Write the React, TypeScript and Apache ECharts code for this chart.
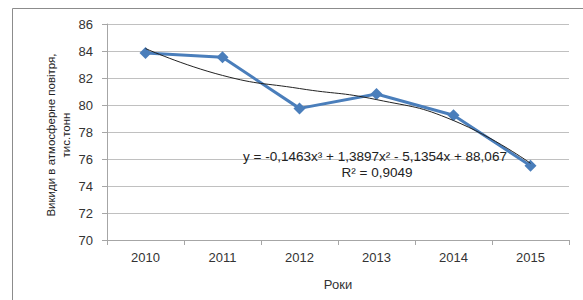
import React, { useEffect, useRef } from "react";
import * as echarts from "echarts";

const years = ["2010", "2011", "2012", "2013", "2014", "2015"];
const emissions = [83.85, 83.53, 79.75, 80.81, 79.24, 75.5];
const trend = [84.18, 82.19, 81.22, 80.4, 78.85, 75.68];
const equationText = "y = -0,1463x³ + 1,3897x² - 5,1354x + 88,067";
const r2Text = "R² = 0,9049";
const yAxisTitle = "Викиди в атмосферне повітря,\nтис.тонн";
const xAxisTitle = "Роки";

export default function App() {
  const ref = useRef<HTMLDivElement>(null);
  useEffect(() => {
    document.body.style.margin = "0";
    const chart = echarts.init(ref.current!, null, { renderer: "svg" });
    const font = "'Liberation Sans', Arial, sans-serif";
    chart.setOption({
      animation: false,
      backgroundColor: "#ffffff",
      textStyle: { fontFamily: font },
      grid: { left: 107, right: 14, top: 24, bottom: 60 },
      xAxis: {
        type: "category",
        data: years,
        boundaryGap: true,
        name: xAxisTitle,
        nameLocation: "middle",
        nameGap: 38,
        nameTextStyle: { fontSize: 13, color: "#333", fontFamily: font },
        axisLine: { lineStyle: { color: "#a6a6a6" } },
        axisTick: { show: true, length: 5, lineStyle: { color: "#a6a6a6" } },
        axisLabel: { fontSize: 13, color: "#333", margin: 11, fontFamily: font },
        splitLine: { show: false },
      },
      yAxis: {
        type: "value",
        min: 70,
        max: 86,
        interval: 2,
        axisLine: { show: true, lineStyle: { color: "#a6a6a6" } },
        axisTick: { show: true, length: 5, lineStyle: { color: "#a6a6a6" } },
        axisLabel: { fontSize: 13, color: "#333", margin: 14, fontFamily: font },
        splitLine: { lineStyle: { color: "#c0c0c0" } },
      },
      series: [
        {
          type: "line",
          data: emissions,
          lineStyle: { color: "#4a7ebb", width: 3 },
          itemStyle: { color: "#4a7ebb" },
          symbol: "diamond",
          symbolSize: 12,
          z: 3,
        },
        {
          type: "line",
          data: trend,
          smooth: true,
          showSymbol: false,
          symbol: "none",
          lineStyle: { color: "#222", width: 1 },
          z: 4,
        },
      ],
      graphic: [
        {
          type: "rect",
          shape: { x: 12.5, y: 8.5, width: 620, height: 330 },
          style: { fill: "none", stroke: "#8c8c8c", lineWidth: 1 },
          silent: true,
          z: 10,
        },
        {
          type: "text",
          x: 58,
          y: 135,
          rotation: Math.PI / 2,
          style: {
            text: yAxisTitle,
            fontSize: 11.5,
            lineHeight: 15,
            fill: "#222",
            align: "center",
            verticalAlign: "middle",
            fontFamily: font,
          },
          z: 10,
        },
        {
          type: "text",
          x: 375,
          y: 156,
          style: {
            text: equationText,
            fontSize: 13.5,
            fill: "#222",
            align: "center",
            verticalAlign: "middle",
            fontFamily: font,
          },
          z: 10,
        },
        {
          type: "text",
          x: 377,
          y: 172,
          style: {
            text: r2Text,
            fontSize: 13.5,
            fill: "#222",
            align: "center",
            verticalAlign: "middle",
            fontFamily: font,
          },
          z: 10,
        },
      ],
    });
    return () => chart.dispose();
  }, []);
  return <div ref={ref} style={{ width: 583, height: 300 }} />;
}
